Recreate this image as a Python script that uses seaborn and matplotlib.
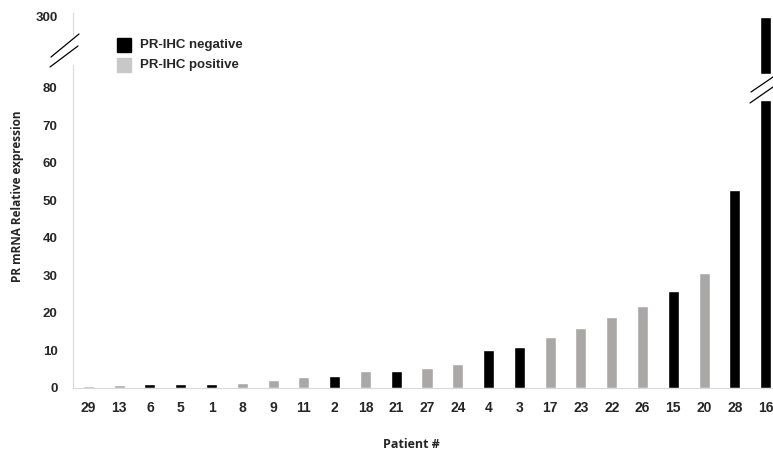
import matplotlib
matplotlib.use('Agg')
import matplotlib.pyplot as plt
import matplotlib.patches as mpatches
from matplotlib.lines import Line2D
import pandas as pd
import seaborn as sns

# Data
patients = ['29', '13', '6', '5', '1', '8', '9', '11', '2', '18', '21', '27',
            '24', '4', '3', '17', '23', '22', '26', '15', '20', '28', '16']
expression = [0.5, 0.8, 1.0, 1.0, 1.0, 1.2, 2.0, 2.8, 3.3, 4.5, 4.5, 5.2,
              6.5, 10.1, 10.9, 13.7, 15.9, 18.9, 21.8, 25.9, 30.6, 52.8, 300]
status = ['pos', 'pos', 'neg', 'neg', 'neg', 'pos', 'pos', 'pos', 'neg', 'pos', 'neg', 'pos',
          'pos', 'neg', 'neg', 'pos', 'pos', 'pos', 'pos', 'neg', 'pos', 'neg', 'neg']
yticks_low = [0, 10, 20, 30, 40, 50, 60, 70, 80]

df = pd.DataFrame({'Patient': patients, 'Expr': expression, 'Status': status})
palette = {'neg': '#000000', 'pos': '#aaa6a6'}

sns.set_style("white")
plt.rcParams['font.family'] = ['Liberation Sans', 'DejaVu Sans']

W, H = 773, 455
fig = plt.figure(figsize=(W / 100, H / 100), dpi=100)

# lower (main) axes and upper axes for the broken scale
ax = fig.add_axes([73 / W, (H - 388) / H, 700 / W, 323 / H])
ax_top = fig.add_axes([73 / W, (H - 74) / H, 700 / W, 61 / H])
ax_top.patch.set_alpha(0)

for a in (ax, ax_top):
    sns.barplot(data=df, x='Patient', y='Expr', hue='Status', order=patients,
                palette=palette, dodge=False, width=0.36, legend=False, ax=a)
    a.set_xlim(-0.5, 22.24)
    a.set_xlabel('')
    a.set_ylabel('')
    for s in ('top', 'right'):
        a.spines[s].set_visible(False)
    a.spines['left'].set_color('#d9d9d9')
    a.tick_params(axis='y', length=0, pad=11, labelsize=9.5)

ax.set_ylim(0, 86.1)
ax.set_yticks(yticks_low)
ax.spines['bottom'].set_color('#d9d9d9')
ax.tick_params(axis='x', length=0, pad=9, labelsize=10)
for t in ax.get_xticklabels() + ax.get_yticklabels():
    t.set_fontweight('bold')

ax_top.set_ylim(250, 303.5)
ax_top.set_yticks([300])
ax_top.spines['bottom'].set_visible(False)
ax_top.spines['left'].set_bounds(284, 303.5)
ax_top.set_xticks([])
for t in ax_top.get_yticklabels():
    t.set_fontweight('bold')


def px(x, y):
    return (x / W, 1 - y / H)


# break on the last bar
fig.patches.append(mpatches.Rectangle(px(757, 100), 18 / W, 26 / H, color='white',
                                      transform=fig.transFigure, zorder=5))
for (x0, y0), (x1, y1) in [((751, 92), (773, 77)), ((750, 103), (773, 87)),
                           ((51, 57), (79, 34)), ((50, 67), (78, 46))]:
    fig.lines.append(Line2D([x0 / W, x1 / W], [1 - y0 / H, 1 - y1 / H], color='black',
                            lw=0.9, transform=fig.transFigure, zorder=6))

# legend
for yy, col, lab in [(38, '#000000', 'PR-IHC negative'), (58, '#c8c8c8', 'PR-IHC positive')]:
    fig.patches.append(mpatches.Rectangle(px(117, yy + 14), 14 / W, 14 / H, color=col,
                                          transform=fig.transFigure))
    fig.text(140 / W, 1 - (yy + 7) / H, lab, fontsize=9.5, fontweight='bold', va='center')

fig.text(411 / W, 1 - 444 / H, 'Patient #', fontsize=9, fontweight='bold',
         ha='center', va='center', family=['Open Sans', 'DejaVu Sans'])
fig.text(18 / W, 1 - 196 / H, 'PR mRNA Relative expression', fontsize=8.5, fontweight='bold',
         rotation=90, ha='center', va='center', family=['Open Sans', 'DejaVu Sans'])

fig.savefig('out.png', dpi=100)
